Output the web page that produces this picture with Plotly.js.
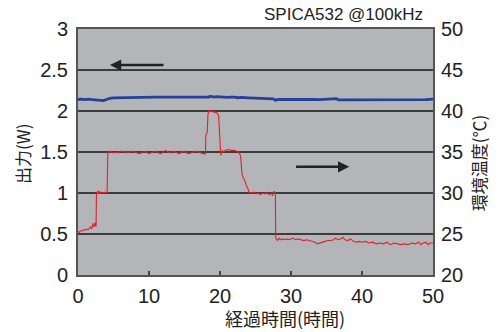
<!DOCTYPE html>
<html>
<head>
<meta charset="utf-8">
<script src="https://cdn.plot.ly/plotly-3.0.1.min.js"></script>
<style>html,body{margin:0;padding:0;background:#fff;}#chart{width:499px;height:332px;}</style>
</head>
<body>
<div id="chart"></div>
<script>
// Output power (W), left axis
const powerX = [0,0.5,1,1.5,2,2.5,2.8,3.2,3.6,4,4.5,5,6,7,8,9,10,11,12,13,14,15,16,17,18,18.4,18.6,18.9,19.2,19.5,19.8,20.2,20.6,21,21.5,22,22.5,23,24,25,26,27,27.5,27.8,28.2,29,30,31,32,33,34,35,36,36.4,36.7,37.2,38,39,40,41,42,43,44,45,46,47,48,49,50];
const powerW = [2.14,2.145,2.14,2.145,2.14,2.135,2.125,2.13,2.128,2.14,2.155,2.16,2.16,2.163,2.165,2.165,2.168,2.168,2.17,2.17,2.17,2.17,2.17,2.168,2.172,2.168,2.18,2.175,2.17,2.176,2.172,2.168,2.17,2.165,2.168,2.17,2.162,2.165,2.16,2.155,2.15,2.15,2.148,2.132,2.14,2.14,2.142,2.14,2.142,2.14,2.138,2.14,2.145,2.15,2.135,2.135,2.138,2.14,2.14,2.142,2.14,2.142,2.14,2.138,2.142,2.14,2.14,2.138,2.145];

// Ambient temperature (°C), right axis
const tempX = [0,0.2,0.4,0.6,0.8,1.0,1.2,1.4,1.6,1.8,1.9,2.0,2.1,2.2,2.3,2.4,2.5,2.55,2.6,2.7,2.8,2.9,3.0,3.1,3.2,3.4,3.6,3.8,4.0,4.1,4.2,4.3,4.5,4.8,5.0,5.3,5.6,6.0,6.3,6.6,7.0,7.3,7.6,8.0,8.3,8.6,9.0,9.3,9.6,10.0,10.3,10.6,11.0,11.3,11.6,12.0,12.3,12.6,13.0,13.3,13.6,14.0,14.3,14.6,15.0,15.3,15.6,16.0,16.3,16.6,17.0,17.3,17.6,17.9,17.95,18.0,18.2,18.3,18.4,18.6,18.8,19.0,19.2,19.4,19.6,19.8,19.9,20.0,20.1,20.3,20.5,20.8,21.2,21.6,22.0,22.4,22.7,22.9,23.0,23.1,23.3,23.5,23.7,23.9,24.1,24.3,24.5,24.8,25.1,25.4,25.7,26.0,26.3,26.6,26.9,27.2,27.4,27.6,27.8,27.85,27.9,28.1,28.3,28.5,28.8,29.1,29.4,29.7,30.0,30.3,30.6,31.0,31.4,31.8,32.2,32.6,33.0,33.4,33.7,34.0,34.4,34.8,35.2,35.6,36.0,36.3,36.6,37.0,37.3,37.6,38.0,38.4,38.8,39.2,39.6,40.0,40.5,41.0,41.5,42.0,42.5,43.0,43.5,44.0,44.5,45.0,45.5,46.0,46.5,47.0,47.5,48.0,48.3,48.6,49.0,49.3,49.6,50.0];
const tempC = [25.3,25.2,25.4,25.4,25.5,25.5,25.6,25.5,25.7,25.9,25.6,25.8,26.3,25.9,26.0,26.4,25.9,26.0,30.1,29.9,30.3,29.9,30.2,30.0,30.1,30.0,30.0,30.1,30.0,30.0,35.0,34.9,35.1,34.9,34.9,35.0,34.9,35.1,35.0,35.1,34.9,35.0,35.1,35.0,34.9,34.8,34.9,35.1,35.0,34.8,34.9,35.0,35.1,34.9,34.8,35.0,35.2,35.0,34.9,35.1,35.0,34.9,34.8,35.0,35.1,34.9,34.8,34.9,35.0,35.1,35.0,34.9,34.8,34.8,34.7,37.0,37.4,39.5,40.0,39.9,40.1,40.0,39.8,39.9,39.7,39.5,38.0,35.5,34.6,35.2,35.0,35.2,35.3,35.2,35.2,35.1,34.9,34.5,33.5,32.3,31.8,31.5,30.9,30.6,30.1,30.0,30.0,30.1,29.9,30.0,29.8,30.0,29.9,30.1,29.8,30.0,29.7,30.2,30.0,24.5,24.4,24.2,24.5,24.3,24.4,24.3,24.4,24.3,24.4,24.5,24.3,24.4,24.3,24.2,24.3,24.2,24.1,24.0,23.8,23.9,24.0,24.1,24.2,24.2,24.3,24.5,24.3,24.4,24.6,24.3,24.2,24.4,24.1,24.0,24.1,24.0,24.1,23.9,24.0,23.8,23.9,23.8,24.0,23.7,23.9,23.8,23.7,23.8,23.7,23.9,23.8,24.0,23.7,23.9,24.0,23.7,23.9,23.9];

const xTicks = [0,10,20,30,40,50];
const yTicks = [0,0.5,1,1.5,2,2.5,3];
const y2Ticks = [20,25,30,35,40,45,50];

const baseFont = 'Liberation Sans, Arial, sans-serif';
const cjkFont = 'Noto Sans CJK JP, sans-serif';

const traces = [
  {x: powerX, y: powerW, type: 'scatter', mode: 'lines', yaxis: 'y',
   line: {color: '#24409a', width: 2.8}, hoverinfo: 'skip'},
  {x: tempX, y: tempC, type: 'scatter', mode: 'lines', yaxis: 'y2',
   line: {color: '#e3202a', width: 1.1}, hoverinfo: 'skip'}
];

const layout = {
  width: 499, height: 332,
  margin: {l: 78, r: 66, t: 29, b: 57, pad: 0},
  paper_bgcolor: '#ffffff',
  plot_bgcolor: '#b4b5b9',
  showlegend: false,
  font: {family: baseFont, size: 20, color: '#222'},
  xaxis: {
    range: [0, 50], tickvals: xTicks, ticks: 'inside', ticklen: 4, tickwidth: 1.5, tickcolor: '#444',
    showgrid: false, zeroline: false, showline: true, mirror: true, linecolor: '#555', linewidth: 2,
    tickfont: {family: baseFont, size: 20, color: '#222'}, ticklabelstandoff: 2
  },
  yaxis: {
    range: [0, 3], tickvals: yTicks, ticks: '', showgrid: true, gridcolor: '#3c3c3c', gridwidth: 1.5,
    zeroline: false, showline: true, mirror: true, linecolor: '#555', linewidth: 2,
    tickfont: {family: baseFont, size: 20, color: '#222'}, ticklabelstandoff: 4
  },
  yaxis2: {
    range: [20, 50], tickvals: y2Ticks, overlaying: 'y', side: 'right', ticks: '',
    showgrid: false, zeroline: false, showline: false,
    tickfont: {family: baseFont, size: 20, color: '#222'}, ticklabelstandoff: 7
  },
  annotations: [
    {text: '出力(W)', xref: 'paper', yref: 'paper', x: -0.155, y: 0.492, textangle: -90,
     showarrow: false, xanchor: 'center', yanchor: 'middle', font: {family: cjkFont, size: 17, color: '#222'}},
    {text: '環境温度(℃)', xref: 'paper', yref: 'paper', x: 1.127, y: 0.455, textangle: -90,
     showarrow: false, xanchor: 'center', yanchor: 'middle', font: {family: cjkFont, size: 17, color: '#222'}},
    {text: '経過時間(時間)', xref: 'paper', yref: 'paper', x: 0.583, y: -0.175,
     showarrow: false, xanchor: 'center', yanchor: 'middle', font: {family: cjkFont, size: 18, color: '#222'}},
    {text: 'SPICA532 @100kHz', xref: 'paper', yref: 'paper', x: 0.749, y: 1.057,
     showarrow: false, xanchor: 'center', yanchor: 'middle', font: {family: baseFont, size: 17, color: '#222'}},
    {text: '', x: 4.5, y: 2.56, xref: 'x', yref: 'y', ax: 12.25, ay: 2.56, axref: 'x', ayref: 'y',
     showarrow: true, arrowhead: 2, arrowsize: 0.9, arrowwidth: 2.5, arrowcolor: '#222'},
    {text: '', x: 38.2, y: 1.32, xref: 'x', yref: 'y', ax: 30.5, ay: 1.32, axref: 'x', ayref: 'y',
     showarrow: true, arrowhead: 2, arrowsize: 0.9, arrowwidth: 2.5, arrowcolor: '#222'}
  ]
};

Plotly.newPlot('chart', traces, layout, {staticPlot: true, displayModeBar: false});
</script>
</body>
</html>
